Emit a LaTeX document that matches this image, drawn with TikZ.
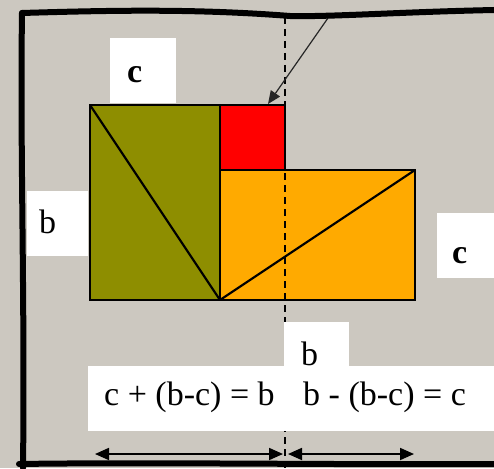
\documentclass[tikz,border=0pt]{standalone}
\usepackage{fontspec}
\setmainfont{Liberation Serif}
\usetikzlibrary{arrows.meta}
\definecolor{bggray}{HTML}{CCC8C0}
\definecolor{olivefill}{HTML}{8E8E00}
\definecolor{orangefill}{HTML}{FFAA00}
\tikzset{
  lblbox/.style={fill=white, draw=none, inner sep=0pt, anchor=north west},
  lbltext/.style={inner sep=0pt, anchor=base west, font=\fontsize{34}{34}\selectfont},
  boldtext/.style={lbltext, font=\fontsize{34}{34}\selectfont\bfseries},
  area/.style={draw=black, line width=1.5pt},
  diag/.style={line width=2.2pt, black},
  frameline/.style={line width=6pt, line cap=round, line join=round},
  dimtip/.tip={Triangle[length=14pt,width=12pt]},
  dimarrow/.style={line width=1.8pt, dimtip-dimtip},
}
\begin{document}
\begin{tikzpicture}[x=1pt,y=-1pt]
\fill[bggray] (0,0) rectangle (494,468);
\useasboundingbox (0,0) rectangle (494,468);

% coordinates
\coordinate (oTL) at (90,105);
\coordinate (oBR) at (220,300);
\coordinate (rTL) at (220,105);
\coordinate (rBR) at (285,170);
\coordinate (yTL) at (220,170);
\coordinate (yTR) at (415,170);
\coordinate (yBR) at (415,300);
\coordinate (dashTop) at (285,17);
\coordinate (dashBot) at (285,468);
\coordinate (arrStart) at (328,18);
\coordinate (arrEnd) at (268,104);
\coordinate (dL) at (95,454);
\coordinate (dM1) at (283,454);
\coordinate (dM2) at (288,454);
\coordinate (dR) at (414,454);

% coloured areas
\filldraw[area, fill=olivefill] (oTL) rectangle (oBR);
\filldraw[area, fill=red] (rTL) rectangle (rBR);
\filldraw[area, fill=orangefill] (yTL) rectangle (yBR);
\draw[diag] (oTL) -- (oBR);
\draw[diag] (oBR) -- (yTR);

% dashed line
\draw[line width=1.4pt, dash pattern=on 7pt off 5pt] (dashTop) -- (dashBot);

% label boxes
\node[lblbox, minimum width=66pt, minimum height=65pt] (boxTop) at (110,38) {};
\node[lblbox, minimum width=61pt, minimum height=65pt] (boxLeft) at (27,191) {};
\node[lblbox, minimum width=57pt, minimum height=65pt] (boxRight) at (437,213) {};
\node[lblbox, minimum width=65pt, minimum height=46pt] (boxB) at (284,322) {};
\node[lblbox, minimum width=406pt, minimum height=65pt] (boxEq) at (88,366) {};

\node[boldtext] (tTop) at (127,82) {c};
\node[lbltext] (tLeft) at (39,233) {b};
\node[boldtext] (tRight) at (452,263) {c};
\node[lbltext] (tB) at (301,365) {b};
\node[lbltext] (tEq1) at (104,405) {c + (b-c) = b};
\node[lbltext] (tEq2) at (303,405) {b - (b-c) = c};

% pointer arrow
\draw[line width=1.2pt, black!85, -{Triangle[length=13pt,width=11pt]}] (arrStart) -- (arrEnd);

% dimension arrows
\draw[dimarrow] (dL) -- (dM1);
\draw[dimarrow] (dM2) -- (dR);

% hand-drawn frame
\draw[frameline] (22,13) .. controls (120,10) and (200,9) .. (290,16)
  .. controls (330,17) and (400,12) .. (494,10);
\draw[frameline] (22,13) .. controls (20,150) and (25,300) .. (23,468);
\draw[frameline] (19,464) .. controls (150,462) and (350,465) .. (494,464);
\end{tikzpicture}
\end{document}
